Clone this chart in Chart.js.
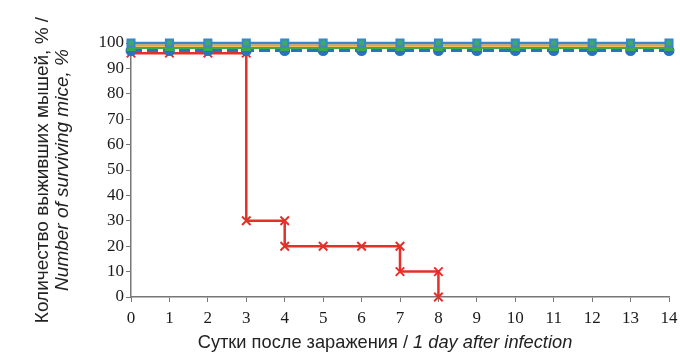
<!DOCTYPE html>
<html>
<head>
<meta charset="utf-8">
<script src="https://cdn.jsdelivr.net/npm/chart.js@4"></script>
<style>
  html, body { margin: 0; padding: 0; background: #fff; }
  #wrap { width: 680px; height: 356px; position: relative; }
</style>
</head>
<body>
<div id="wrap"><canvas id="myChart" width="680" height="356"></canvas></div>
<script>
// days after infection
const days = [0, 1, 2, 3, 4, 5, 6, 7, 8, 9, 10, 11, 12, 13, 14];
const yTicks = [0, 10, 20, 30, 40, 50, 60, 70, 80, 90, 100];

// control groups (all survived), slightly offset in the picture
const groupA = [100, 100, 100, 100, 100, 100, 100, 100, 100, 100, 100, 100, 100, 100, 100];
const groupB = [99, 99, 99, 99, 99, 99, 99, 99, 99, 99, 99, 99, 99, 99, 99];
const groupC = [98, 98, 98, 98, 98, 98, 98, 98, 98, 98, 98, 98, 98, 98, 98];
const groupD = [97, 97, 97, 97, 97, 97, 97, 97, 97, 97, 97, 97, 97, 97, 97];

// infected group, step curve
const redX = [0, 1, 2, 3, 3, 4, 4, 5, 6, 7, 7, 8, 8];
const redY = [96, 96, 96, 96, 30, 30, 20, 20, 20, 20, 10, 10, 0];

function pts(xs, ys) {
    let out = [];
    for (let i in xs) out.push({ x: xs[i], y: ys[i] });
    return out;
}

const sans = "'Liberation Sans', Arial, sans-serif";
const serif = "'Liberation Serif', 'Times New Roman', serif";

const titles = {
    id: "titles",
    afterDraw(chart) {
        const { ctx } = chart;
        ctx.save();
        ctx.fillStyle = "#222";
        ctx.textBaseline = "middle";
        // x title, mixed normal/italic, a bit condensed
        const a = "Сутки после заражения / ";
        const b = "1 day after infection";
        ctx.font = "19px " + sans;
        const wa = ctx.measureText(a).width;
        ctx.font = "italic 19px " + sans;
        const wb = ctx.measureText(b).width;
        const sx = 0.96;
        ctx.save();
        ctx.translate(385 - (wa + wb) * sx / 2, 343);
        ctx.scale(sx, 1);
        ctx.textAlign = "left";
        ctx.font = "19px " + sans;
        ctx.fillText(a, 0, 0);
        ctx.font = "italic 19px " + sans;
        ctx.fillText(b, wa, 0);
        ctx.restore();
        // y title
        ctx.translate(0, 170);
        ctx.rotate(-Math.PI / 2);
        ctx.textAlign = "center";
        ctx.font = "19px " + sans;
        ctx.fillText("Количество выживших мышей, % /", 0, 43);
        ctx.font = "italic 19px " + sans;
        ctx.fillText("Number of surviving mice, %", 0, 63);
        ctx.restore();
    }
};

const ctx = document.getElementById('myChart');
new Chart(ctx, {
    type: 'scatter',
    data: {
        datasets: [
            {
                label: "A",
                data: pts(days, groupA),
                showLine: true,
                borderColor: "#3a86c8",
                backgroundColor: "#3fa86a",
                borderWidth: 2.5,
                pointStyle: "rect",
                pointRadius: 5,
                pointBorderWidth: 2,
                clip: false
            },
            {
                label: "B",
                data: pts(days, groupB),
                showLine: true,
                borderColor: "#f2a524",
                backgroundColor: "#f2a524",
                borderWidth: 2.5,
                pointRadius: 0,
                clip: false
            },
            {
                label: "C",
                data: pts(days, groupC),
                showLine: true,
                borderColor: "#3caa4a",
                backgroundColor: "#3caa4a",
                borderWidth: 2,
                pointStyle: "triangle",
                pointRadius: 4,
                clip: false
            },
            {
                label: "D",
                data: pts(days, groupD),
                showLine: true,
                borderColor: "#2a72bd",
                backgroundColor: "#2a72bd",
                borderWidth: 3,
                borderDash: [11, 5],
                pointStyle: "circle",
                pointRadius: 4,
                clip: false
            },
            {
                label: "Infected",
                data: pts(redX, redY),
                showLine: true,
                borderColor: "#e3302a",
                backgroundColor: "#e3302a",
                borderWidth: 2.5,
                pointStyle: "crossRot",
                pointRadius: 6,
                pointBorderWidth: 2,
                clip: false
            }
        ]
    },
    options: {
        responsive: false,
        animation: false,
        layout: { padding: { left: 0, top: 43, right: 11, bottom: 0 } },
        plugins: {
            legend: { display: false },
            tooltip: { enabled: false }
        },
        scales: {
            x: {
                type: 'linear',
                min: 0,
                max: 14,
                afterBuildTicks: (scale) => { scale.ticks = days.map(v => ({ value: v })); },
                afterFit: (scale) => {
                    scale.height = 59;
                    scale.paddingRight = 0;
                    scale.paddingLeft = 0;
                },
                border: { color: "#777", width: 1.5 },
                grid: { drawOnChartArea: false, tickLength: 5, color: "#777" },
                ticks: {
                    color: "#1a1a1a",
                    padding: 6,
                    font: { family: serif, size: 17 }
                }
            },
            y: {
                min: 0,
                max: 100,
                afterBuildTicks: (scale) => { scale.ticks = yTicks.map(v => ({ value: v })); },
                afterFit: (scale) => { scale.width = 131; },
                border: { color: "#777", width: 1.5 },
                grid: { drawOnChartArea: false, tickLength: 5, color: "#777" },
                ticks: {
                    color: "#1a1a1a",
                    padding: 2,
                    font: { family: serif, size: 17 }
                }
            }
        }
    },
    plugins: [titles]
});
</script>
</body>
</html>
